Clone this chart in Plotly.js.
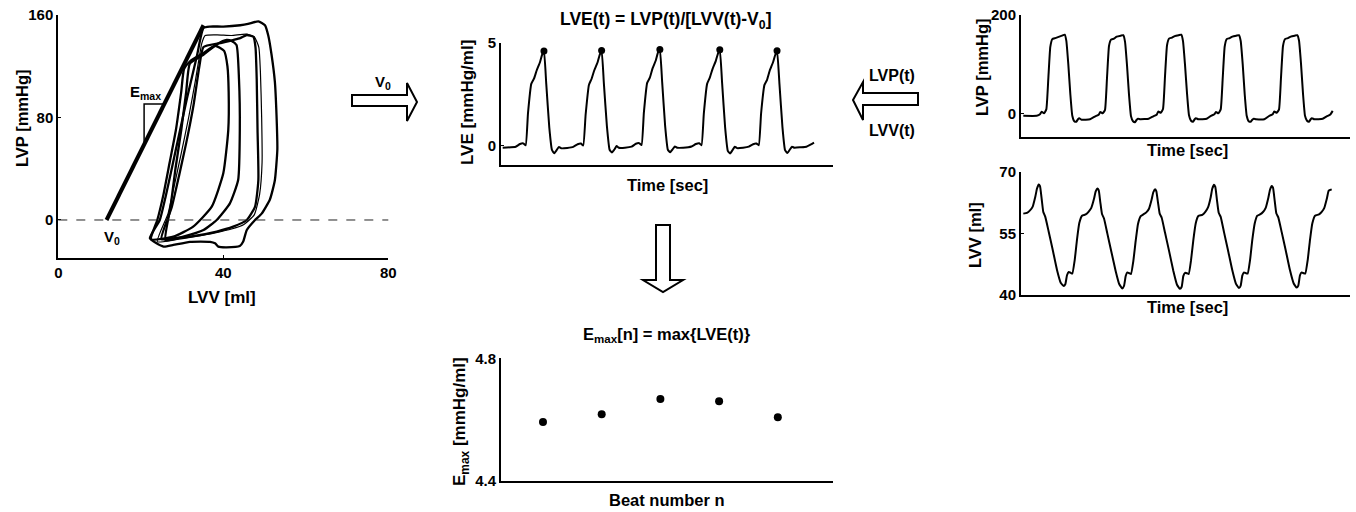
<!DOCTYPE html>
<html><head><meta charset="utf-8">
<script src="https://cdn.plot.ly/plotly-3.0.1.min.js"></script>
<style>html,body{margin:0;padding:0;background:#fff}#c{width:1356px;height:512px}</style>
</head><body><div id="c"></div>
<script>
// ---------------- DATA ----------------
// Pressure-volume loops (LVV [ml], LVP [mmHg])
const loop1V = [22.2,25.5,27.9,31.9,36.8,38.0,38.8,40.8,44.0,44.8,45.7,47.7,49.3,51.3,52.5,53.1,52.9,52.5,51.7,50.9,50.1,48.5,46.0,44.1,40.0,36.8,35.2,33.6,31.2,29.3,27.5,26.0,24.6,22.2];
const loop1P = [-14.3,-20.8,-19.5,-17,-17,-18.2,-20.8,-21.3,-20.3,-17,-7.8,0,5,16,31,55,82,108,129,144,152,155,153,152,151,151,150,128,95,67,40,18,0,-14.3];
const loop2V = [24.0,28.0,33.0,38.0,42.0,45.0,47.5,48.8,49.4,49.3,49.0,48.6,47.5,45.5,42.0,38.5,35.6,34.8,33.3,31.6,29.8,28.2,26.6,24.0];
const loop2P = [-17,-15.5,-13,-10,-7,-3.5,4,20,45,80,115,135,143,145,144,144.5,144,138,110,80,52,28,5,-17];
const loop3V = [25.0,28.5,31.9,38.4,42.4,45.7,47.7,48.5,48.3,48.1,47.8,47.3,45.7,44.1,39.2,35.2,34.2,32.8,31.0,29.3,27.5,25.0];
const loop3P = [-15,-14,-13,-9,-5.2,0,10.4,31.2,70,110,135,143,144.4,142,138,135,120,90,60,35,10,-15];
const loop4V = [26.0,30.3,35.2,38.4,41.6,43.6,44.0,43.8,43.2,42.0,40.8,38.4,35.2,31.9,31.0,29.8,28.4,27.2,26.0];
const loop4P = [-16,-13,-7.8,0,13,31.2,70,110,136.6,139.7,140.5,137,129,122,100,70,40,10,-16];
const loop5V = [22.5,27.9,32.7,37.2,40.0,41.2,41.3,41.0,40.2,38.0,35.0,32.0,30.5,29.8,28.5,27.0,25.5,24.0,22.5];
const loop5P = [-15,-13,-5.2,10.4,36.4,70,100,120,132,136,130,124,118,100,70,45,20,0,-15];
// End-systolic pressure-volume relation
const v0 = 11.7;
const espvrV = [11.7, 35.2];
const espvrP = [0, 152];
const slopeMarkV = [20.8, 25.7];

// LVE(t)
const lveT = [0.017,0.147,0.19,0.223,0.247,0.27,0.303,0.33,0.357,0.39,0.41,0.43,0.453,0.483,0.51,0.533,0.557,0.58,0.603,0.663,
 0.723,0.767,0.8,0.823,0.847,0.88,0.907,0.933,0.967,0.987,1.007,1.03,1.06,1.087,1.11,1.133,1.157,1.18,1.24,
 1.307,1.35,1.383,1.407,1.43,1.463,1.49,1.517,1.55,1.57,1.59,1.613,1.643,1.67,1.693,1.717,1.74,1.763,1.823,
 1.907,1.95,1.983,2.007,2.03,2.063,2.09,2.117,2.15,2.17,2.19,2.213,2.243,2.27,2.293,2.317,2.34,2.363,2.423,
 2.48,2.523,2.557,2.58,2.603,2.637,2.663,2.69,2.723,2.743,2.763,2.787,2.817,2.843,2.867,2.89,2.913,2.937,2.997,3.057,3.097,3.133];
const lveV = [-0.10,-0.05,0.08,0.11,0.02,1.57,3.0,3.25,3.65,4.05,4.4,4.592,3.0,0.9,-0.21,-0.37,-0.22,-0.06,-0.13,-0.11,
 -0.06,0.07,0.10,0.01,1.5,2.95,3.25,3.65,4.05,4.4,4.618,3.0,0.95,-0.2,-0.33,-0.2,-0.02,-0.1,-0.1,
 -0.05,0.09,0.12,0.03,1.6,3.05,3.3,3.75,4.15,4.5,4.667,3.1,0.95,-0.2,-0.32,-0.18,-0.04,-0.1,-0.1,
 -0.04,0.08,0.12,0.02,1.55,3.0,3.3,3.72,4.12,4.45,4.660,3.05,0.9,-0.25,-0.38,-0.22,-0.05,-0.12,-0.1,
 -0.05,0.07,0.1,0.02,1.55,2.95,3.2,3.65,4.05,4.38,4.608,3.0,0.9,-0.22,-0.36,-0.2,-0.05,-0.1,-0.08,-0.05,0.05,0.15];

// LVP(t) [mmHg]
const lvpT = [0.023,0.157,0.19,0.207,0.23,0.253,0.273,0.293,0.313,0.343,0.37,0.41,0.437,0.453,0.473,0.493,0.513,0.533,0.553,0.57,0.583,0.607,0.69,
 0.743,0.777,0.793,0.817,0.84,0.86,0.88,0.9,0.93,0.957,0.997,1.023,1.04,1.06,1.08,1.1,1.12,1.14,1.157,1.17,1.193,1.277,
 1.323,1.357,1.373,1.397,1.42,1.44,1.46,1.48,1.51,1.537,1.577,1.603,1.62,1.64,1.66,1.68,1.7,1.72,1.737,1.75,1.773,1.857,
 1.9,1.933,1.95,1.973,1.997,2.017,2.037,2.057,2.087,2.113,2.153,2.18,2.197,2.217,2.237,2.257,2.277,2.297,2.313,2.327,2.35,2.433,
 2.483,2.517,2.533,2.557,2.58,2.6,2.62,2.64,2.67,2.697,2.737,2.763,2.78,2.8,2.82,2.84,2.86,2.88,2.897,2.91,2.933,3.017,
 3.057,3.09,3.117];
const lvpV = [-5,-5,-2,3.5,0,8,70,135,151,153,155,158,160,148,100,40,-5,-16,-17,-12,-10,-13,-12,
 -6,-3,3,0,7,72,137,150,152,156,158,159,146,98,38,-6,-16,-18,-13,-11,-12,-11,
 -6,-3,4,1,9,75,138,152,154,157,159,160,147,99,41,-4,-15,-17,-12,-10,-12,-11,
 -5,-2,3,0,8,71,136,151,153,156,158,159,147,100,39,-5,-16,-17,-13,-11,-12,-12,
 -5,-2,4,1,8,73,137,151,153,156,158,159,148,101,40,-5,-15,-17,-12,-10,-12,-11,
 -6,-3,5];

// LVV(t) [ml]
const lvvT = [0.023,0.06,0.09,0.117,0.143,0.16,0.177,0.19,0.207,0.223,0.243,0.277,0.317,0.36,0.397,0.427,0.443,0.46,0.477,0.497,0.513,0.537,0.56,0.583,0.61,
 0.647,0.677,0.703,0.73,0.747,0.763,0.777,0.793,0.81,0.83,0.863,0.903,0.947,0.983,1.013,1.03,1.047,1.063,1.083,1.1,1.123,1.147,1.17,1.197,
 1.223,1.253,1.28,1.307,1.323,1.34,1.353,1.37,1.387,1.407,1.44,1.48,1.523,1.56,1.59,1.607,1.623,1.64,1.66,1.677,1.7,1.723,1.747,1.773,
 1.813,1.843,1.87,1.897,1.913,1.93,1.943,1.96,1.977,1.997,2.03,2.07,2.113,2.15,2.18,2.197,2.213,2.23,2.25,2.267,2.29,2.313,2.337,2.363,
 2.39,2.42,2.447,2.473,2.49,2.507,2.52,2.537,2.553,2.573,2.607,2.647,2.69,2.727,2.757,2.773,2.79,2.807,2.827,2.843,2.867,2.89,2.913,2.94,
 2.98,3.007,3.033,3.06,3.077,3.107];
const lvvV = [59.8,60.0,60.6,61.5,63.9,65.9,66.9,66.5,63.3,60.2,59.0,55.4,51.0,46.1,43.0,42.2,42.6,44.8,45.6,45.4,45.2,48.5,53.5,57.5,59.3,
 59.6,60.3,61.2,63.4,65.2,65.9,65.5,62.6,59.7,58.6,55.0,50.6,45.8,42.6,41.6,42.2,44.6,45.5,45.3,45.1,48.2,53.2,57.3,59.2,
 59.6,60.1,61.0,63.3,65.0,65.7,65.3,62.5,59.8,58.8,55.2,50.8,45.9,42.5,41.5,42.0,44.6,45.4,45.3,45.1,48.4,53.3,57.4,59.2,
 59.5,60.2,61.3,63.8,65.9,66.8,66.3,63.0,60.0,59.0,55.3,50.9,46.0,42.7,41.7,42.3,44.7,45.5,45.3,45.2,48.4,53.4,57.4,59.3,
 59.6,60.2,61.2,63.6,65.6,66.5,66.1,62.9,59.9,58.9,55.3,50.9,46.0,42.8,41.8,42.3,44.8,45.5,45.3,45.2,48.5,53.4,57.4,59.3,
 59.6,60.2,61.2,63.6,65.4,65.7];

// Emax per beat
const beatN = [1,2,3,4,5];
const emaxV = [4.592,4.618,4.667,4.660,4.608];

// ---------------- LAYOUT HELPERS ----------------
const W = 1356, H = 512;
const fx = p => p / W;
const fy = p => 1 - p / H;
const FONT = 'Liberation Sans, Arial, Helvetica, sans-serif';
const dom = (a, b) => [fx(a), fx(b)];
const domY = (top, bottom) => [fy(bottom), fy(top)];

function axisBase(extra) {
  return Object.assign({
    showline: true, linecolor: '#000', linewidth: 2, showgrid: false, zeroline: false,
    ticks: 'inside', ticklen: 3, tickwidth: 1, tickcolor: '#000',
    tickfont: {family: FONT, size: 15, color: '#000', weight: 'bold'},
    fixedrange: true, mirror: false
  }, extra);
}
function timeX(extra) {
  return axisBase(Object.assign({ticks: '', showticklabels: false}, extra));
}

const LC = '#000';
const traces = [];
const pvLoops = [[loop1V, loop1P, 2.3], [loop2V, loop2P, 1.2], [loop3V, loop3P, 2.3], [loop4V, loop4P, 2.3], [loop5V, loop5P, 2.3]];
pvLoops.forEach(l => traces.push({x: l[0], y: l[1], type: 'scatter', mode: 'lines', xaxis: 'x', yaxis: 'y',
  line: {color: LC, width: l[2], shape: 'spline', smoothing: 0.5}, hoverinfo: 'skip'}));
traces.push({x: espvrV, y: espvrP, type: 'scatter', mode: 'lines', xaxis: 'x', yaxis: 'y', line: {color: LC, width: 4}});
// slope marker built on the ESPVR line
const slope = (espvrP[1] - espvrP[0]) / (espvrV[1] - espvrV[0]);
const pOn = v => (v - v0) * slope;
traces.push({x: [slopeMarkV[1], slopeMarkV[0], slopeMarkV[0]], y: [pOn(slopeMarkV[1]), pOn(slopeMarkV[1]), pOn(slopeMarkV[0])],
  type: 'scatter', mode: 'lines', xaxis: 'x', yaxis: 'y', line: {color: LC, width: 1.5}});

traces.push({x: lveT, y: lveV, type: 'scatter', mode: 'lines', xaxis: 'x2', yaxis: 'y2', line: {color: LC, width: 2, shape: 'spline', smoothing: 0.4}});
// peak dots = local maxima of LVE
const pkT = [], pkV = [];
for (let i = 1; i < lveV.length - 1; i++) {
  if (lveV[i] > 4 && lveV[i] >= lveV[i-1] && lveV[i] >= lveV[i+1]) { pkT.push(lveT[i]); pkV.push(lveV[i]); }
}
traces.push({x: pkT, y: pkV, type: 'scatter', mode: 'markers', xaxis: 'x2', yaxis: 'y2', marker: {color: LC, size: 7}});

traces.push({x: lvpT, y: lvpV, type: 'scatter', mode: 'lines', xaxis: 'x3', yaxis: 'y3', line: {color: LC, width: 2, shape: 'spline', smoothing: 0.4}});
traces.push({x: lvvT, y: lvvV, type: 'scatter', mode: 'lines', xaxis: 'x4', yaxis: 'y4', line: {color: LC, width: 2, shape: 'spline', smoothing: 0.4}});
traces.push({x: beatN, y: emaxV, type: 'scatter', mode: 'markers', xaxis: 'x5', yaxis: 'y5', marker: {color: LC, size: 8}});

function ann(text, x, y, size, angle) {
  return {text: text, x: fx(x), y: fy(y), xref: 'paper', yref: 'paper', showarrow: false,
    xanchor: 'center', yanchor: 'middle', textangle: angle || 0,
    font: {family: FONT, size: size, color: '#000'}};
}
function path(pts) {
  return 'M' + pts.map(p => fx(p[0]).toFixed(5) + ',' + fy(p[1]).toFixed(5)).join(' L') + ' Z';
}
const arrowStyle = {type: 'path', xref: 'paper', yref: 'paper', line: {color: '#000', width: 2}, fillcolor: '#fff'};

const layout = {
  width: W, height: H, margin: {l: 0, r: 0, t: 0, b: 0, pad: 0},
  paper_bgcolor: '#fff', plot_bgcolor: 'rgba(0,0,0,0)', showlegend: false,
  font: {family: FONT, color: '#000'},
  xaxis: axisBase({domain: dom(58.3, 388.3), range: [0, 80], tickvals: [0, 40, 80], anchor: 'y'}),
  yaxis: axisBase({domain: domY(15, 258.3), range: [-29.9, 160], tickvals: [0, 80, 160], anchor: 'x'}),
  xaxis2: timeX({domain: dom(501, 833), range: [0, 3.323], anchor: 'y2'}),
  yaxis2: axisBase({domain: domY(42.7, 165), range: [-0.94, 5], tickvals: [0, 5], anchor: 'x2'}),
  xaxis3: timeX({domain: dom(1021, 1350), range: [0, 3.29], anchor: 'y3'}),
  yaxis3: axisBase({domain: domY(15, 136.7), range: [-47.5, 200], tickvals: [0, 200], anchor: 'x3'}),
  xaxis4: timeX({domain: dom(1021, 1350), range: [0, 3.29], anchor: 'y4'}),
  yaxis4: axisBase({domain: domY(171.7, 295), range: [40, 70], tickvals: [40, 55, 70], anchor: 'x4'}),
  xaxis5: timeX({domain: dom(501, 833), range: [0.285, 5.94], anchor: 'y5'}),
  yaxis5: axisBase({domain: domY(358.3, 481), range: [4.4, 4.8], tickvals: [4.4, 4.8], anchor: 'x5'}),
  shapes: [
    {type: 'line', xref: 'x domain', yref: 'y', x0: 0, x1: 1, y0: 0, y1: 0, line: {color: '#222', width: 1, dash: 'dash'}},
    Object.assign({path: path([[352,95],[407,95],[407,83],[417,102],[407,121],[407,106],[352,106]])}, arrowStyle),
    Object.assign({path: path([[853,100],[863,82],[863,93],[918,93],[918,105],[863,105],[863,120]])}, arrowStyle),
    Object.assign({path: path([[656,225],[670,225],[670,280],[683,280],[663,292],[643,280],[656,280]])}, arrowStyle)
  ],
  annotations: [
    ann('<b>LVP [mmHg]</b>', 22, 119, 16.5, -90),
    ann('<b>LVV [ml]</b>', 222, 297, 17),
    ann('<b>E<sub>max</sub></b>', 145, 92, 15),
    ann('<b>V<sub>0</sub></b>', 112, 237, 15),
    ann('<b>V<sub>0</sub></b>', 383, 82, 15),
    ann('<b>LVE(t) = LVP(t)/[LVV(t)-V<sub>0</sub>]</b>', 665, 20, 17.5),
    ann('<b>LVE [mmHg/ml]</b>', 467, 103, 17, -90),
    ann('<b>Time [sec]</b>', 667, 185, 16.5),
    ann('<b>LVP(t)</b>', 892, 75, 16),
    ann('<b>LVV(t)</b>', 892, 130, 16),
    ann('<b>LVP [mmHg]</b>', 982, 68, 16.5, -90),
    ann('<b>Time [sec]</b>', 1187, 150, 16.5),
    ann('<b>LVV [ml]</b>', 975, 235, 16.5, -90),
    ann('<b>Time [sec]</b>', 1187, 307, 16.5),
    ann('<b>E<sub>max</sub>[n] = max{LVE(t)}</b>', 667, 335, 16.5),
    ann('<b>E<sub>max</sub> [mmHg/ml]</b>', 461, 422, 17, -90),
    ann('<b>Beat number n</b>', 667, 500, 16.5)
  ]
};

Plotly.newPlot('c', traces, layout, {staticPlot: true, displayModeBar: false});
</script>
</body></html>
